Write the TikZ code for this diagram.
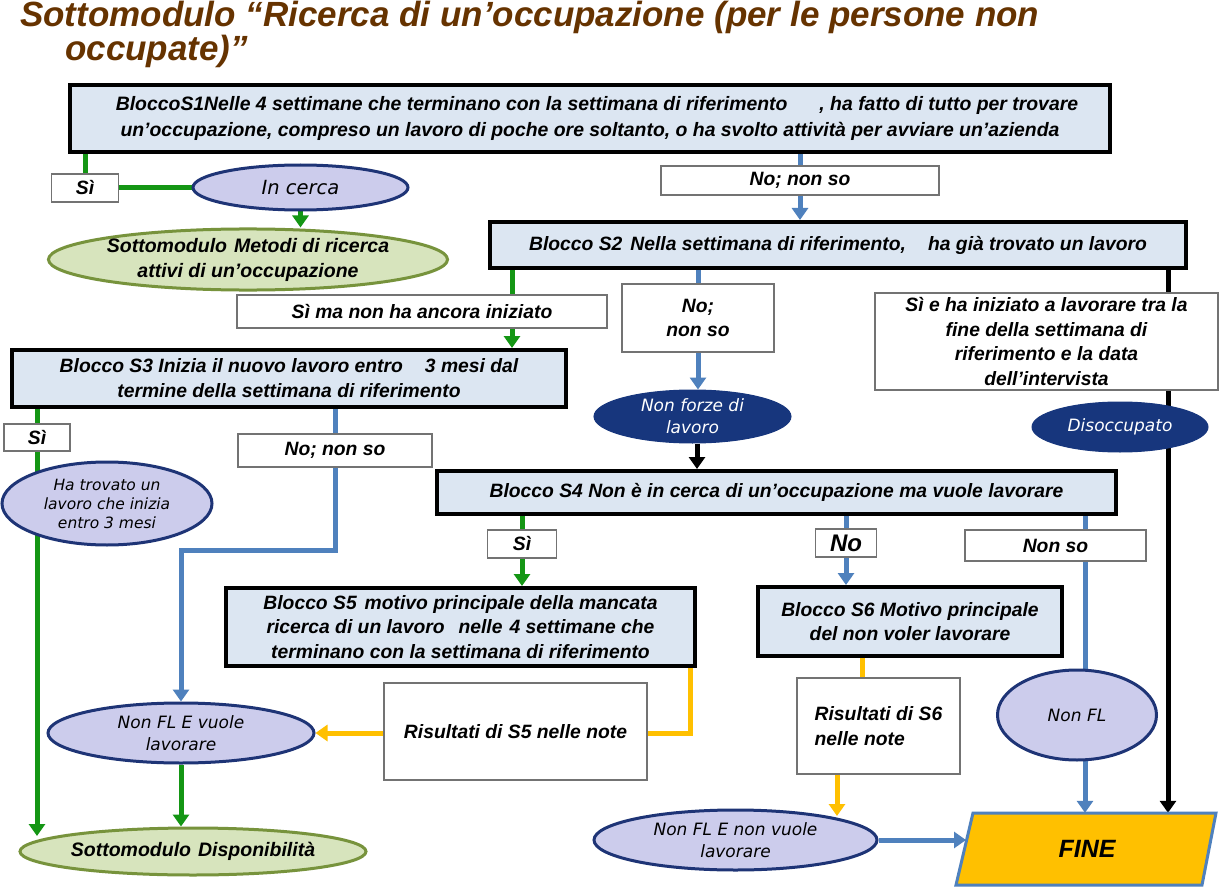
\documentclass[tikz,border=0pt]{standalone}
\usepackage{fontspec}
\setmainfont{Liberation Sans}
\newfontfamily\vfont{DejaVu Sans}
\usetikzlibrary{shapes.geometric,arrows.meta,calc}
\pgfdeclarelayer{bg}
\pgfsetlayers{bg,main}
\definecolor{blockfill}{RGB}{220,230,242}
\definecolor{lav}{RGB}{204,204,236}
\definecolor{navy}{RGB}{30,52,118}
\definecolor{darkell}{RGB}{23,54,125}
\definecolor{gline}{RGB}{20,150,20}
\definecolor{bline}{RGB}{79,129,189}
\definecolor{yline}{RGB}{255,192,0}
\definecolor{greenfill}{RGB}{215,228,189}
\definecolor{olive}{RGB}{119,147,60}
\definecolor{titlebrown}{RGB}{102,51,0}
\begin{document}
\begin{tikzpicture}[x=1pt,y=-1pt,
 sz/.style 2 args={minimum width=#1pt,minimum height=#2pt},
 block/.style={draw=black,line width=4pt,fill=blockfill,inner sep=0pt,align=center,font=\fontsize{19.3}{25}\selectfont\bfseries\itshape},
 lbl/.style={draw=black!55,line width=1.2pt,fill=white,inner sep=0pt,align=center,font=\fontsize{19.3}{24.5}\selectfont\bfseries\itshape},
 lell/.style={ellipse,draw=navy,line width=3pt,fill=lav,inner sep=0pt,align=center,font=\fontsize{17}{22}\selectfont\vfont\itshape},
 dell/.style={ellipse,draw=darkell,line width=1pt,fill=darkell,text=white,inner sep=0pt,align=center,font=\fontsize{17}{22}\selectfont\vfont\itshape},
 gell/.style={ellipse,draw=olive,line width=3pt,fill=greenfill,inner sep=0pt,align=center,font=\fontsize{19.5}{25}\selectfont\bfseries\itshape},
 ttl/.style={anchor=base west,inner sep=0pt,text=titlebrown,font=\fontsize{35}{38}\selectfont\bfseries\itshape},
 conn/.style={line width=5pt},
 arr/.style={-{Triangle[length=12pt,width=16pt]}},
]
\useasboundingbox (0,0) rectangle (1219,888);
\begin{pgfonlayer}{bg}
\fill[white] (0,0) rectangle (1219,888);
\end{pgfonlayer}

% title
\node[ttl] (t1) at (20,27) {Sottomodulo “Ricerca di un’occupazione (per le persone non};
\node[ttl] (t2) at (65,61) {occupate)”};

% blocks and labels
\node[block,sz={1040}{67},font=\fontsize{19.4}{26}\selectfont\bfseries\itshape] (S1) at (590,118.5)
 {\hspace*{14pt}BloccoS1Nelle 4 settimane che terminano con la settimana di riferimento\hspace{32pt}, ha fatto di tutto per trovare\\un’occupazione, compreso un lavoro di poche ore soltanto, o ha svolto attività per avviare un’azienda};
\node[lbl,sz={67}{28}] (lS1si) at (85,188) {Sì};
\node[lell,sz={215}{45},font=\fontsize{19.5}{23}\selectfont\vfont\itshape] (incerca) at (300.5,187.5) {In cerca};
\node[gell,sz={360}{55}] (metodi) at (248,259.5) {Sottomodulo\hspace{7pt}Metodi di ricerca\\attivi di un’occupazione};
\node[lbl,sz={278}{29}] (lS1no) at (800,180.5) {No; non so};
\node[block,sz={696}{46}] (S2) at (838,245) {Blocco S2\hspace{8pt}Nella settimana di riferimento,\hspace{22pt}ha già trovato un lavoro};
\node[lbl,sz={370}{33}] (lS2si) at (422,311.5) {Sì ma non ha ancora iniziato};
\node[lbl,sz={152}{68}] (lS2no) at (698,318) {No;\\non so};
\node[lbl,sz={343}{97}] (lS2sie) at (1046.5,341.5) {Sì e ha iniziato a lavorare tra la\\fine della settimana di\\riferimento e la data\\dell’intervista};
\node[dell,sz={197}{53}] (nfl) at (692.5,416.5) {Non forze di\\lavoro};
\node[dell,sz={176}{50}] (disocc) at (1120,427) {Disoccupato};
\node[block,sz={554}{57}] (S3) at (289,378.5) {Blocco S3 Inizia il nuovo lavoro entro\hspace{22pt}3 mesi dal\\termine della settimana di riferimento};
\node[lbl,sz={66}{27}] (lS3si) at (37,437.5) {Sì};
\node[lbl,sz={194}{33}] (lS3no) at (335,450.5) {No; non so};
\node[lell,sz={210}{83},font=\fontsize{15.5}{19}\selectfont\vfont\itshape] (hatrov) at (107,503.5) {Ha trovato un\\lavoro che inizia\\entro 3 mesi};
\node[block,sz={679}{43}] (S4) at (776.5,492.5) {Blocco S4 Non è in cerca di un’occupazione ma vuole lavorare};
\node[lbl,sz={69}{28}] (lS4si) at (522,544) {Sì};
\node[lbl,sz={61}{28},font=\fontsize{24}{26}\selectfont\bfseries\itshape] (lS4no) at (846,543) {No};
\node[lbl,sz={181}{31}] (lS4ns) at (1055.5,545.5) {Non so};
\node[block,sz={469}{78},font=\fontsize{19.3}{24.5}\selectfont\bfseries\itshape] (S5) at (460.5,627) {Blocco S5\hspace{8pt}motivo principale della mancata\\ricerca di un lavoro\hspace{14pt}nelle\hspace{7pt}4 settimane che\\terminano con la settimana di riferimento};
\node[block,sz={304}{69},font=\fontsize{19.3}{24.5}\selectfont\bfseries\itshape] (S6) at (910,621.5) {Blocco S6 Motivo principale\\del non voler lavorare};
\node[lbl,sz={263}{97}] (rS5) at (515.5,731.5) {Risultati di S5 nelle note};
\node[lbl,sz={163}{96},align=left] (rS6) at (878.5,726) {Risultati di S6\\nelle note};
\node[lell,sz={159}{90}] (nonfl) at (1077,715) {Non FL};
\node[lell,sz={266}{60}] (nflv) at (181,733) {Non FL E vuole\\lavorare};
\node[gell,sz={346}{47}] (disp) at (193,851.5) {Sottomodulo\hspace{7pt}Disponibilità};
\node[lell,sz={283}{60}] (nfln) at (735.5,840) {Non FL E non vuole\\lavorare};
\draw[draw=bline,line width=3pt,fill=yline] (973,813) -- (1216,813) -- (1202,885) -- (956,885) -- cycle;
\node[inner sep=0pt,sz={250}{72},font=\fontsize{25}{27}\selectfont\bfseries\itshape] (fine) at (1087,849) {FINE};

% helper coordinates
\coordinate (g512) at (512,0);
\coordinate (k1168) at (1168,0);
\coordinate (b697) at (697,0);
\coordinate (b1085) at (1085,0);
\coordinate (c550) at (0,550);
\coordinate (y690) at (690,0);
\coordinate (y862) at (862,0);
\coordinate (y837) at (837,0);
\coordinate (dispin) at (37,836);
\coordinate (nflnin) at (837,816);
\coordinate (finel) at (966,840);

\begin{pgfonlayer}{bg}
\draw[conn,gline] (S1.south -| lS1si) |- (incerca.west);
\draw[conn,gline,arr] (incerca.south) -- (incerca.south |- metodi.north);
\draw[conn,bline,arr] (S1.south -| lS1no) -- (S2.north -| lS1no);
\draw[conn,gline,arr] (S2.south -| g512) -- (S3.north -| g512);
\draw[conn,bline,arr] (S2.south -| lS2no) -- (nfl.north -| lS2no);
\draw[conn,black,arr] (S2.south -| k1168) -- (fine.north -| k1168);
\draw[conn,black,arr] (nfl.south -| b697) -- (S4.north -| b697);
\draw[conn,gline,arr] (S3.south -| lS3si) -- (dispin);
\draw[conn,bline,arr] (S3.south -| lS3no) |- (c550 -| nflv) -- (nflv.north);
\draw[conn,gline,arr] (S4.south -| lS4si) -- (S5.north -| lS4si);
\draw[conn,bline,arr] (S4.south -| lS4no) -- (S6.north -| lS4no);
\draw[conn,bline,arr] (S4.south -| b1085) -- (fine.north -| b1085);
\draw[conn,yline,arr] (S5.south -| y690) |- (nflv.east);
\draw[conn,yline] (S6.south -| y862) -- (rS6.north -| y862);
\draw[conn,yline,arr] (rS6.south -| y837) -- (nflnin);
\draw[conn,bline,arr] (nfln.east) -- (finel);
\draw[conn,gline,arr] (nflv.south) -- (nflv.south |- disp.north);
\end{pgfonlayer}
\end{tikzpicture}
\end{document}
